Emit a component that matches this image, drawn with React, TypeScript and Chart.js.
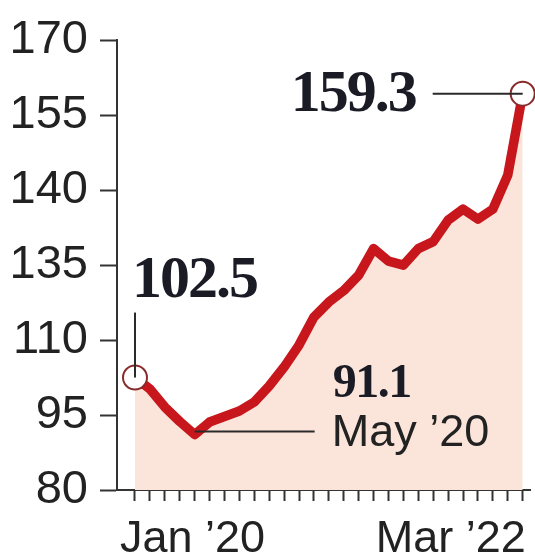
import React, { useEffect, useRef } from 'react';
import { Chart, registerables } from 'chart.js';

Chart.register(...registerables);

// Categories: monthly, Jan 2020 – Mar 2022
const months = [
  'Jan 2020', 'Feb 2020', 'Mar 2020', 'Apr 2020', 'May 2020', 'Jun 2020',
  'Jul 2020', 'Aug 2020', 'Sep 2020', 'Oct 2020', 'Nov 2020', 'Dec 2020',
  'Jan 2021', 'Feb 2021', 'Mar 2021', 'Apr 2021', 'May 2021', 'Jun 2021',
  'Jul 2021', 'Aug 2021', 'Sep 2021', 'Oct 2021', 'Nov 2021', 'Dec 2021',
  'Jan 2022', 'Feb 2022', 'Mar 2022',
];

// Series values
const values = [
  102.5, 100.2, 96.6, 93.7, 91.1, 93.6, 94.7, 95.8, 97.6, 100.8,
  104.6, 109.0, 114.6, 117.6, 119.9, 123.0, 128.3, 125.8, 125.0, 128.3,
  129.7, 134.0, 136.2, 134.2, 136.2, 143.0, 159.3,
];

// Y axis ticks and their printed labels (as printed in the original)
const yTicks = [80, 95, 110, 125, 140, 155, 170];
const yTickLabels = ['80', '95', '110', '135', '140', '155', '170'];

// X axis labels shown
const xLabelIndex = [0, 26];
const xLabelText = ['Jan \u201920', 'Mar \u201922'];

// Annotations
const annotIndex = [0, 4, 26];
const annotText = ['102.5', '91.1', '159.3'];
const annotSub = ['', 'May \u201920', ''];

const LINE = '#c8161d';
const FILL = '#fbe5da';
const INK = '#222222';
const NUM = '#1b1b26';

const annotationPlugin = {
  id: 'annotations',
  afterDraw(chart: any) {
    const ctx = chart.ctx as CanvasRenderingContext2D;
    const xs = chart.scales.x;
    const ys = chart.scales.y;
    const pt = (i: number) => ({ px: xs.getPixelForValue(i), py: ys.getPixelForValue(values[i]) });

    ctx.save();
    ctx.strokeStyle = '#2a2a2a';
    ctx.lineWidth = 2;

    // 102.5 (first point): vertical leader up, text above
    {
      const { px, py } = pt(annotIndex[0]);
      ctx.beginPath();
      ctx.moveTo(px, py);
      ctx.lineTo(px, py - 65);
      ctx.stroke();
      ctx.fillStyle = NUM;
      ctx.font = 'bold 60px "Liberation Serif"';
      (ctx as any).letterSpacing = '-2px';
      ctx.textAlign = 'left';
      ctx.textBaseline = 'alphabetic';
      ctx.fillText(annotText[0], px - 3, py - 81);
    }

    // 91.1 May '20 (minimum): horizontal leader to the right
    {
      const { px, py } = pt(annotIndex[1]);
      ctx.beginPath();
      ctx.moveTo(px, py - 3);
      ctx.lineTo(px + 120, py - 3);
      ctx.stroke();
      ctx.fillStyle = NUM;
      ctx.font = 'bold 48px "Liberation Serif"';
      (ctx as any).letterSpacing = '-1.5px';
      ctx.textAlign = 'left';
      ctx.fillText(annotText[1], px + 138, py - 38);
      ctx.fillStyle = INK;
      ctx.font = '45px "Liberation Sans"';
      (ctx as any).letterSpacing = '0px';
      ctx.fillText(annotSub[1], px + 137, py + 11);
    }

    // 159.3 (last point): horizontal leader to the left
    {
      const { px, py } = pt(annotIndex[2]);
      ctx.beginPath();
      ctx.moveTo(px - 90, py);
      ctx.lineTo(px, py);
      ctx.stroke();
      ctx.fillStyle = NUM;
      ctx.font = 'bold 60px "Liberation Serif"';
      (ctx as any).letterSpacing = '-2px';
      ctx.textAlign = 'right';
      ctx.textBaseline = 'middle';
      ctx.fillText(annotText[2], px - 107, py + 2);
    }

    // X axis labels
    (ctx as any).letterSpacing = '0px';
    ctx.fillStyle = INK;
    ctx.font = '45px "Liberation Sans"';
    ctx.textBaseline = 'alphabetic';
    const base = xs.bottom - 5;
    {
      const px = xs.getPixelForValue(xLabelIndex[0]);
      ctx.textAlign = 'left';
      ctx.fillText(xLabelText[0], px - 15, base);
    }
    {
      const px = xs.getPixelForValue(xLabelIndex[1]);
      ctx.textAlign = 'right';
      ctx.fillText(xLabelText[1], px + 3, base);
    }
    ctx.restore();
  },
};

export default function App() {
  const ref = useRef<HTMLCanvasElement | null>(null);

  useEffect(() => {
    document.body.style.margin = '0';
    if (!ref.current) return;
    const last = values.length - 1;
    const chart = new Chart(ref.current, {
      type: 'line',
      data: {
        labels: months,
        datasets: [
          {
            data: values.map((v, i) => ({ x: i, y: v })),
            borderColor: LINE,
            borderWidth: 9.5,
            borderJoinStyle: 'round',
            borderCapStyle: 'round',
            tension: 0,
            fill: 'start',
            backgroundColor: FILL,
            pointRadius: values.map((_, i) => (i === 0 || i === last ? 12 : 0)),
            pointBackgroundColor: '#ffffff',
            pointBorderColor: '#8a2b2b',
            pointBorderWidth: 2,
            clip: false,
          } as any,
        ],
      },
      options: {
        responsive: false,
        animation: false,
        events: [],
        layout: { autoPadding: false, padding: { top: 29, right: 5, left: 0, bottom: 0 } },
        plugins: { legend: { display: false }, tooltip: { enabled: false } },
        scales: {
          x: {
            type: 'linear',
            min: -1.207,
            max: 26.49,
            afterBuildTicks: (axis: any) => {
              axis.ticks = months.map((_, i) => ({ value: i }));
            },
            afterFit: (axis: any) => {
              axis.height = 67;
            },
            grid: {
              drawOnChartArea: false,
              drawTicks: true,
              tickLength: 11,
              tickWidth: 2,
              tickColor: '#333333',
            },
            border: { display: true, color: '#333333', width: 2 },
            ticks: { display: false },
          },
          y: {
            type: 'linear',
            min: 80,
            max: 170,
            afterBuildTicks: (axis: any) => {
              axis.ticks = yTicks.map((v) => ({ value: v }));
            },
            afterFit: (axis: any) => {
              axis.width = 117;
            },
            grid: {
              drawOnChartArea: false,
              drawTicks: true,
              tickLength: 17,
              tickWidth: 2,
              tickColor: '#333333',
            },
            border: { display: true, color: '#333333', width: 2 },
            ticks: {
              padding: 12,
              color: INK,
              font: { family: '"Liberation Sans"', size: 47 },
              callback: (v: any) => {
                const k = yTicks.indexOf(Number(v));
                return k >= 0 ? yTickLabels[k] : '';
              },
            },
          },
        },
      },
      plugins: [annotationPlugin],
    });
    return () => chart.destroy();
  }, []);

  return (
    <div style={{ width: 535, height: 557, background: '#ffffff' }}>
      <canvas ref={ref} width={535} height={557} style={{ display: 'block' }} />
    </div>
  );
}
